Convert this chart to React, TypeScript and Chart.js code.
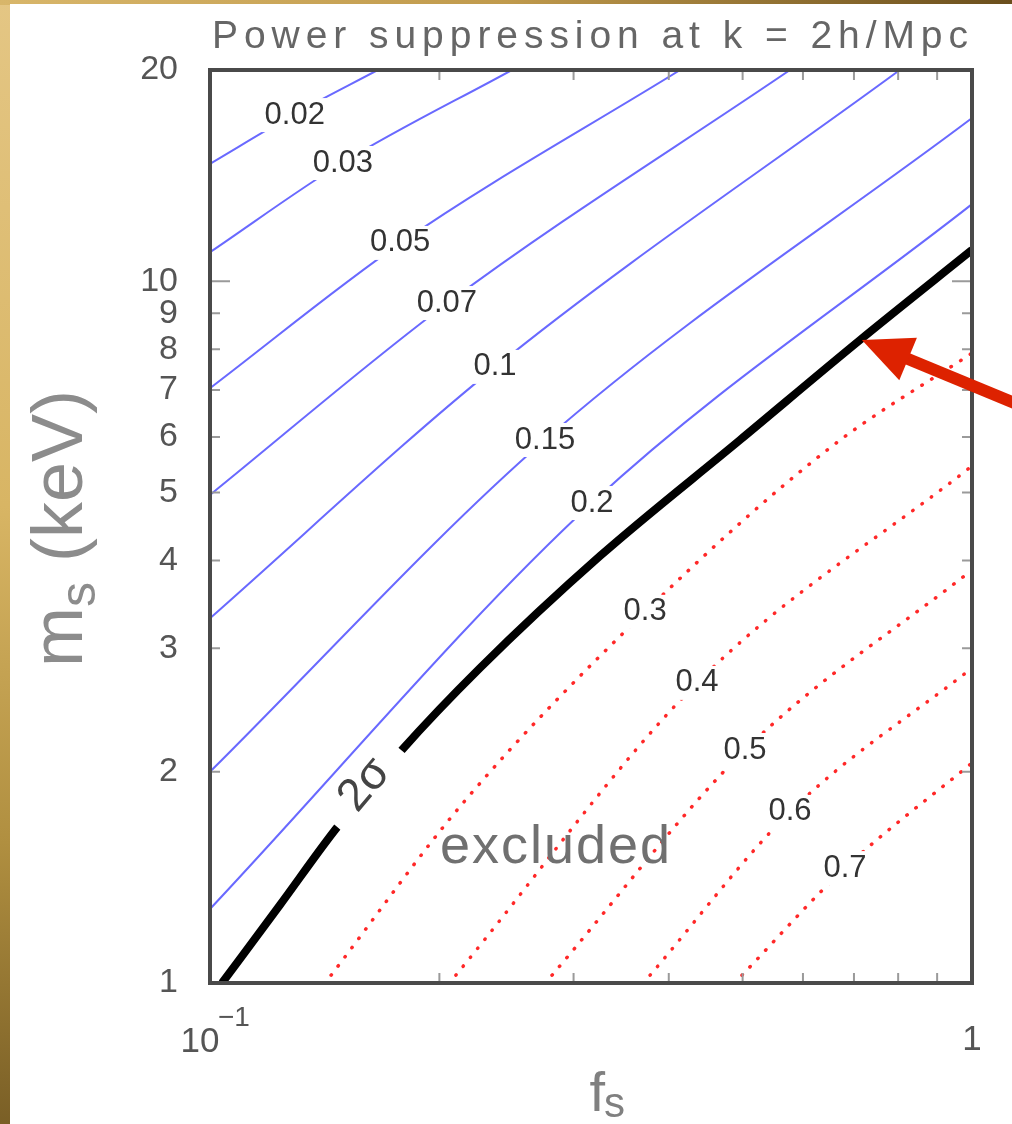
import React, { useEffect, useRef } from "react";
import { Chart, registerables } from "chart.js";

Chart.register(...registerables);

// ---------- data (f_s, m_s [keV]) ----------
const X_MIN = 0.1;
const X_MAX = 1;
const Y_MIN = 1;
const Y_MAX = 20;
const X_MINOR_TICKS = [0.2, 0.3, 0.4, 0.5, 0.6, 0.7, 0.8, 0.9];
const Y_TICKS = [1, 2, 3, 4, 5, 6, 7, 8, 9, 10, 20];
const Y_INNER_TICKS = [2, 3, 4, 5, 6, 7, 8, 9, 10];

const C_002: [number, number][] = [[0.1, 14.7], [0.129, 17.3], [0.166, 20]];
const C_003: [number, number][] = [[0.1, 11.0], [0.149, 14.74], [0.249, 20]];
const C_005: [number, number][] = [[0.1, 7.04], [0.178, 11.34], [0.414, 20]];
const C_007: [number, number][] = [[0.1, 4.96], [0.205, 9.31], [0.577, 20]];
const C_010: [number, number][] = [[0.1, 3.31], [0.237, 7.55], [0.804, 20]];
const C_015: [number, number][] = [[0.1, 2.0], [0.275, 5.94], [1, 17.08]];
const C_020: [number, number][] = [[0.1, 1.275], [0.317, 4.83], [1, 12.88]];
const C_2SIGMA: [number, number][] = [
  [0.1037, 1.0], [0.1235, 1.291], [0.1459, 1.652], [0.1776, 2.134], [0.2261, 2.811],
  [0.3249, 4.059], [0.496, 5.94], [0.7129, 8.246], [1, 11.08],
];
const C_030: [number, number][] = [[0.1442, 1.026], [0.2148, 1.805], [0.3724, 3.38], [0.651, 5.79], [1, 7.9]];
const C_040: [number, number][] = [[0.2102, 1.026], [0.4357, 2.677], [1, 5.455]];
const C_050: [number, number][] = [[0.2811, 1.026], [0.5036, 2.148], [1, 3.878]];
const C_060: [number, number][] = [[0.378, 1.026], [0.577, 1.753], [1, 2.811]];
const C_070: [number, number][] = [[0.4991, 1.026], [0.6812, 1.458], [1, 2.059]];

const BLUE_LINES = [C_002, C_003, C_005, C_007, C_010, C_015, C_020];
const RED_LINES = [C_030, C_040, C_050, C_060, C_070];

const LEVEL_LABELS = ["0.02", "0.03", "0.05", "0.07", "0.1", "0.15", "0.2", "0.3", "0.4", "0.5", "0.6", "0.7"];
const LEVEL_LABEL_F = [0.1292, 0.1494, 0.1776, 0.2046, 0.2366, 0.2752, 0.3172, 0.3724, 0.4357, 0.5036, 0.577, 0.6812];
const LEVEL_LABEL_M = [17.25, 14.74, 11.34, 9.31, 7.55, 5.94, 4.83, 3.38, 2.677, 2.148, 1.753, 1.458];

const SIGMA_LABEL = "2σ";
const SIGMA_POS: [number, number] = [0.1597, 1.915];
const EXCLUDED_LABEL = "excluded";
const EXCLUDED_POS: [number, number] = [0.2837, 1.557];
const ARROW_TIP: [number, number] = [0.717, 8.25];

const TITLE = "Power suppression at k = 2h/Mpc";
const FONT = "'Liberation Sans', 'DejaVu Sans', Arial, sans-serif";

const toXY = (pts: [number, number][]) => pts.map(([x, y]) => ({ x, y }));

function spacedText(ctx: CanvasRenderingContext2D, text: string, left: number, y: number, width: number) {
  (ctx as any).letterSpacing = "0px";
  const w = ctx.measureText(text).width;
  const ls = text.length > 1 ? (width - w) / (text.length - 1) : 0;
  (ctx as any).letterSpacing = ls + "px";
  ctx.textAlign = "left";
  ctx.fillText(text, left, y);
  (ctx as any).letterSpacing = "0px";
}

const overlayPlugin = {
  id: "overlay",
  afterDatasetsDraw(chart: any) {
    const { ctx, chartArea: a, scales } = chart;
    const xs = scales.x;
    const ys = scales.y;
    ctx.save();

    // contour level labels (white patch breaks the line under them)
    ctx.font = `31px ${FONT}`;
    ctx.textBaseline = "middle";
    ctx.textAlign = "center";
    LEVEL_LABELS.forEach((t, i) => {
      const px = xs.getPixelForValue(LEVEL_LABEL_F[i]);
      const py = ys.getPixelForValue(LEVEL_LABEL_M[i]);
      const w = ctx.measureText(t).width;
      ctx.fillStyle = "#ffffff";
      ctx.fillRect(px - w / 2 - 5, py - 17, w + 10, 34);
      ctx.fillStyle = "#333333";
      ctx.fillText(t, px, py);
    });

    // 2 sigma label on the black line
    {
      const px = xs.getPixelForValue(SIGMA_POS[0]);
      const py = ys.getPixelForValue(SIGMA_POS[1]);
      ctx.save();
      ctx.translate(px, py);
      ctx.rotate(-50 * Math.PI / 180);
      ctx.fillStyle = "#ffffff";
      ctx.fillRect(-50, -24, 100, 48);
      ctx.font = `46px ${FONT}`;
      ctx.fillStyle = "#444444";
      ctx.textAlign = "center";
      ctx.textBaseline = "middle";
      ctx.fillText(SIGMA_LABEL, 0, 0);
      ctx.restore();
    }

    // "excluded"
    {
      const px = xs.getPixelForValue(EXCLUDED_POS[0]);
      const py = ys.getPixelForValue(EXCLUDED_POS[1]);
      ctx.font = `54px ${FONT}`;
      ctx.fillStyle = "#707070";
      ctx.textBaseline = "middle";
      spacedText(ctx, EXCLUDED_LABEL, px - 115, py, 230);
    }

    // inner ticks
    ctx.strokeStyle = "#9a9a9a";
    ctx.lineWidth = 2;
    ctx.beginPath();
    X_MINOR_TICKS.forEach((v) => {
      const px = xs.getPixelForValue(v);
      ctx.moveTo(px, a.bottom);
      ctx.lineTo(px, a.bottom - 10);
      ctx.moveTo(px, a.top);
      ctx.lineTo(px, a.top + 10);
    });
    Y_INNER_TICKS.forEach((v) => {
      const py = ys.getPixelForValue(v);
      const len = v === 10 ? 20 : 10;
      ctx.moveTo(a.left, py);
      ctx.lineTo(a.left + len, py);
      ctx.moveTo(a.right, py);
      ctx.lineTo(a.right - len, py);
    });
    ctx.stroke();

    // frame
    ctx.strokeStyle = "#4a4a4a";
    ctx.lineWidth = 4;
    ctx.strokeRect(a.left, a.top, a.right - a.left, a.bottom - a.top);

    // x tick labels 10^-1 and 1
    ctx.fillStyle = "#555555";
    ctx.textBaseline = "alphabetic";
    ctx.textAlign = "center";
    ctx.font = `35px ${FONT}`;
    const x01 = xs.getPixelForValue(0.1);
    ctx.fillText("10", x01 - 10, a.bottom + 69);
    ctx.font = `28px ${FONT}`;
    ctx.textAlign = "left";
    ctx.fillText("−1", x01 + 8, a.bottom + 43);
    ctx.font = `35px ${FONT}`;
    ctx.textAlign = "center";
    ctx.fillText("1", xs.getPixelForValue(1), a.bottom + 67);

    // x axis title f_s
    const cx = (a.left + a.right) / 2;
    ctx.fillStyle = "#808080";
    ctx.font = `56px ${FONT}`;
    ctx.textAlign = "right";
    ctx.fillText("f", cx + 14, a.bottom + 128);
    ctx.font = `42px ${FONT}`;
    ctx.textAlign = "left";
    ctx.fillText("s", cx + 13, a.bottom + 134);

    // y axis title m_s (keV), rotated
    {
      const cy = (a.top + a.bottom) / 2;
      ctx.save();
      ctx.translate(82, cy + 2);
      ctx.rotate(-Math.PI / 2);
      ctx.fillStyle = "#8c8c8c";
      ctx.textAlign = "left";
      ctx.font = `72px ${FONT}`;
      const mW = ctx.measureText("m").width;
      ctx.font = `50px ${FONT}`;
      const sW = ctx.measureText("s").width;
      ctx.font = `72px ${FONT}`;
      const restW = ctx.measureText(" (keV)").width;
      const total = mW + sW + restW;
      let x0 = -total / 2;
      ctx.fillText("m", x0, 0);
      x0 += mW;
      ctx.font = `50px ${FONT}`;
      ctx.fillText("s", x0, 13);
      x0 += sW;
      ctx.font = `72px ${FONT}`;
      ctx.fillText(" (keV)", x0, 0);
      ctx.restore();
    }

    // title
    ctx.fillStyle = "#666666";
    ctx.font = `39px ${FONT}`;
    ctx.textBaseline = "alphabetic";
    spacedText(ctx, TITLE, a.left + 2, 48, a.right - a.left - 6);

    // red arrow pointing at the 2 sigma line
    {
      const tx = xs.getPixelForValue(ARROW_TIP[0]);
      const ty = ys.getPixelForValue(ARROW_TIP[1]);
      const ux = -0.924, uy = -0.383;
      const ex = chart.width + 10;
      const ey = ty + (ex - tx) * (uy / ux);
      const headLen = 50, headHalf = 23;
      const bx = tx - ux * headLen, by = ty - uy * headLen;
      ctx.strokeStyle = "#dd2200";
      ctx.fillStyle = "#dd2200";
      ctx.lineWidth = 12;
      ctx.beginPath();
      ctx.moveTo(ex, ey);
      ctx.lineTo(bx + ux * 4, by + uy * 4);
      ctx.stroke();
      ctx.beginPath();
      ctx.moveTo(tx, ty);
      ctx.lineTo(bx + uy * headHalf, by - ux * headHalf);
      ctx.lineTo(bx - uy * headHalf, by + ux * headHalf);
      ctx.closePath();
      ctx.fill();
    }

    ctx.restore();
  },
};

export default function App() {
  const ref = useRef<HTMLCanvasElement | null>(null);

  useEffect(() => {
    if (!ref.current) return;
    const datasets: any[] = [];
    BLUE_LINES.forEach((pts, i) =>
      datasets.push({
        label: LEVEL_LABELS[i],
        data: toXY(pts),
        borderColor: "rgb(105,105,255)",
        borderWidth: 2,
        pointRadius: 0,
        showLine: true,
        cubicInterpolationMode: "monotone",
      })
    );
    datasets.push({
      label: "2σ",
      data: toXY(C_2SIGMA),
      borderColor: "#000000",
      borderWidth: 8,
      pointRadius: 0,
      showLine: true,
      cubicInterpolationMode: "monotone",
    });
    RED_LINES.forEach((pts, i) =>
      datasets.push({
        label: LEVEL_LABELS[7 + i],
        data: toXY(pts),
        borderColor: "rgb(255,40,40)",
        borderWidth: 3.5,
        borderDash: [0.5, 11],
        borderCapStyle: "round",
        pointRadius: 0,
        showLine: true,
        cubicInterpolationMode: "monotone",
      })
    );

    const chart = new Chart(ref.current, {
      type: "scatter",
      data: { datasets },
      options: {
        animation: false,
        responsive: true,
        maintainAspectRatio: false,
        layout: { padding: { top: 70, right: 40, left: 0, bottom: 0 } },
        plugins: { legend: { display: false }, tooltip: { enabled: false }, title: { display: false } },
        scales: {
          x: {
            type: "logarithmic",
            min: X_MIN,
            max: X_MAX,
            grid: { display: false, drawTicks: false },
            border: { display: false },
            ticks: { display: false },
            afterFit: (s: any) => { s.height = 141; },
          },
          y: {
            type: "logarithmic",
            min: Y_MIN,
            max: Y_MAX,
            grid: { display: false, drawTicks: false },
            border: { display: false },
            afterBuildTicks: (s: any) => { s.ticks = Y_TICKS.map((v) => ({ value: v })); },
            ticks: {
              autoSkip: false,
              padding: 32,
              color: "#555555",
              font: { size: 34, family: FONT },
              callback: (v: any) => String(v),
            },
            afterFit: (s: any) => { s.width = 210; },
          },
        },
      } as any,
      plugins: [overlayPlugin],
    });
    return () => chart.destroy();
  }, []);

  return (
    <div style={{ position: "fixed", left: 0, top: 0, width: 1012, height: 1124, overflow: "hidden",
      background: "linear-gradient(to bottom, #e4c684 0%, #d8b564 45%, #b08f40 75%, #7a5f26 100%)" }}>
      <div style={{ position: "absolute", left: 0, top: 0, width: 1012, height: 5,
        background: "linear-gradient(to right, #d8b66a 0%, #c09a4c 50%, #6a4e1c 100%)" }} />
      <div style={{ position: "absolute", left: 10, top: 4, right: 0, bottom: 0, background: "#ffffff" }} />
      <div style={{ position: "absolute", left: 0, top: 0, width: 1012, height: 1124 }}>
        <canvas ref={ref} />
      </div>
    </div>
  );
}
